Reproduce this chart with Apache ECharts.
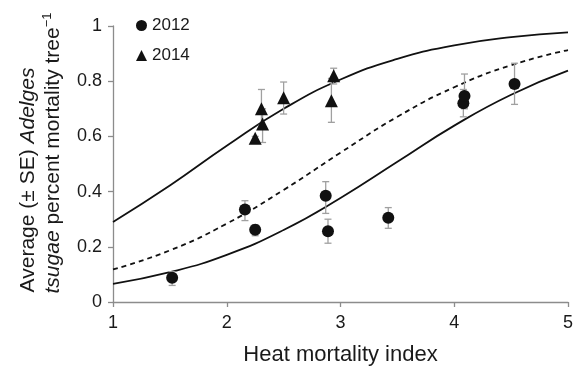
<!DOCTYPE html>
<html>
<head>
<meta charset="utf-8">
<script src="https://cdn.jsdelivr.net/npm/echarts@6/dist/echarts.min.js"></script>
<style>
  html, body { margin: 0; padding: 0; background: #fff; }
  #chart { width: 579px; height: 367px; }
</style>
</head>
<body>
<div id="chart"></div>
<script>
// observed means and SE bars
const x2012 = [1.52, 2.16, 2.25, 2.87, 2.89, 3.42, 4.08, 4.09, 4.53]
const y2012 = [0.088, 0.335, 0.262, 0.385, 0.256, 0.305, 0.72, 0.746, 0.79]
const lo2012 = [0.06, 0.295, 0.24, 0.321, 0.213, 0.267, 0.671, 0.70, 0.716]
const hi2012 = [0.11, 0.367, 0.28, 0.436, 0.30, 0.342, 0.77, 0.826, 0.865]

const x2014 = [2.25, 2.305, 2.315, 2.5, 2.92, 2.94]
const y2014 = [0.593, 0.70, 0.645, 0.74, 0.729, 0.82]
const lo2014 = [0.58, 0.64, 0.578, 0.681, 0.651, 0.79]
const hi2014 = [0.60, 0.77, 0.70, 0.797, 0.81, 0.847]

// fitted curves
const curveX = [1, 1.5, 2, 2.5, 3, 3.5, 4, 4.5, 5]
const upperY = [0.29, 0.422, 0.566, 0.70, 0.806, 0.881, 0.93, 0.96, 0.977]
const midY = [0.118, 0.187, 0.284, 0.406, 0.541, 0.671, 0.778, 0.858, 0.913]
const lowerY = [0.066, 0.108, 0.171, 0.261, 0.377, 0.508, 0.639, 0.751, 0.838]

const font = "'Liberation Sans', Arial, sans-serif"
const axisGrey = '#8c8c8c'
const ink = '#1a1a1a'

const zip = (xs, ys) => xs.map((x, i) => [x, ys[i]])
const bars = (xs, lo, hi) => xs.map((x, i) => [x, lo[i], hi[i]])

function errorBar(params, api) {
  const top = api.coord([api.value(0), api.value(2)])
  const bot = api.coord([api.value(0), api.value(1)])
  const w = 3.5
  const style = { stroke: '#a0a0a0', lineWidth: 1.3 }
  return {
    type: 'group',
    children: [
      { type: 'line', shape: { x1: top[0], y1: top[1], x2: bot[0], y2: bot[1] }, style },
      { type: 'line', shape: { x1: top[0] - w, y1: top[1], x2: top[0] + w, y2: top[1] }, style },
      { type: 'line', shape: { x1: bot[0] - w, y1: bot[1], x2: bot[0] + w, y2: bot[1] }, style }
    ]
  }
}

function curve(ys, dashed) {
  return {
    type: 'line',
    data: zip(curveX, ys),
    smooth: true,
    showSymbol: false,
    silent: true,
    z: 2,
    lineStyle: { color: '#111', width: 1.8, type: dashed ? [5, 4] : 'solid' }
  }
}

const myChart = echarts.init(document.getElementById('chart'))

myChart.setOption({
  animation: false,
  textStyle: { fontFamily: font },
  grid: { left: 113, right: 11, top: 26, bottom: 65, containLabel: false, outerBoundsMode: 'none' },
  legend: {
    data: [
      { name: '2012', icon: 'circle' },
      { name: '2014', icon: 'triangle' }
    ],
    orient: 'vertical',
    left: 131,
    top: 12,
    itemGap: 13,
    itemWidth: 11,
    itemHeight: 11,
    textStyle: { fontFamily: font, fontSize: 17, color: ink }
  },
  xAxis: {
    type: 'value',
    min: 1,
    max: 5,
    interval: 1,
    name: 'Heat mortality index',
    nameLocation: 'middle',
    nameGap: 42,
    nameTextStyle: { fontFamily: font, fontSize: 22, color: ink },
    splitLine: { show: false },
    axisLine: { lineStyle: { color: axisGrey, width: 1.3 } },
    axisTick: { show: true, length: 5, lineStyle: { color: axisGrey, width: 1.3 } },
    axisLabel: { fontFamily: font, fontSize: 18, color: ink, margin: 12 }
  },
  yAxis: {
    type: 'value',
    min: 0,
    max: 1,
    interval: 0.2,
    name: '{n|Average (± SE) }{i|Adelges}{sp|}\n{i|tsugae}{n| percent mortality tree}{s|−1}',
    nameLocation: 'middle',
    nameRotate: 90,
    nameGap: 46,
    nameTextStyle: {
      fontFamily: font,
      fontSize: 21,
      color: ink,
      lineHeight: 25,
      padding: [0, 0, 0, 22],
      rich: {
        n: { fontFamily: font, fontSize: 21, color: ink, lineHeight: 25 },
        i: { fontFamily: font, fontSize: 21, fontStyle: 'italic', color: ink, lineHeight: 25 },
        sp: { width: 54, lineHeight: 25 },
        s: { fontFamily: font, fontSize: 13, color: ink, verticalAlign: 'top', lineHeight: 25, padding: [0, 0, 9, 0] }
      }
    },
    splitLine: { show: false },
    axisLine: { show: true, lineStyle: { color: axisGrey, width: 1.3 } },
    axisTick: { show: true, length: 5, lineStyle: { color: axisGrey, width: 1.3 } },
    axisLabel: { fontFamily: font, fontSize: 18, color: ink, margin: 11 }
  },
  series: [
    curve(upperY, false),
    curve(midY, true),
    curve(lowerY, false),
    {
      type: 'custom',
      renderItem: errorBar,
      data: bars(x2012, lo2012, hi2012),
      encode: { x: 0, y: [1, 2] },
      silent: true,
      z: 3
    },
    {
      type: 'custom',
      renderItem: errorBar,
      data: bars(x2014, lo2014, hi2014),
      encode: { x: 0, y: [1, 2] },
      silent: true,
      z: 3
    },
    {
      name: '2012',
      type: 'scatter',
      symbol: 'circle',
      symbolSize: 12,
      itemStyle: { color: '#111', opacity: 1 },
      data: zip(x2012, y2012),
      z: 5
    },
    {
      name: '2014',
      type: 'scatter',
      symbol: 'triangle',
      symbolSize: 13,
      itemStyle: { color: '#111', opacity: 1 },
      data: zip(x2014, y2014),
      z: 5
    }
  ]
})
</script>
</body>
</html>
